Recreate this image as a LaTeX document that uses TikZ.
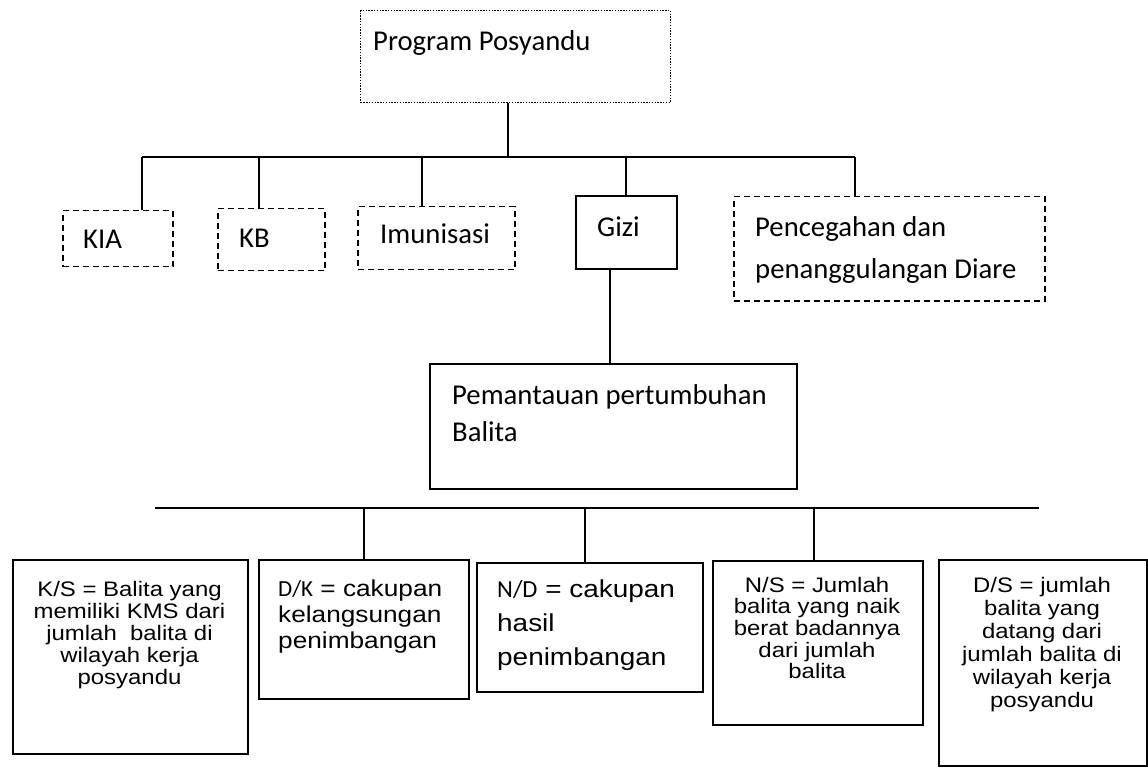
\documentclass[tikz,border=0pt]{standalone}
\usepackage{fontspec}
\setmainfont{Carlito}
\newfontfamily\arialw[FakeStretch=1.14]{Liberation Sans}
\newfontfamily\calfont{Carlito}
\begin{document}
\begin{tikzpicture}[x=1pt,y=-1pt,
  box/.style={draw, line width=1.6pt, rectangle, inner sep=0pt, anchor=north west},
  dashbox/.style={draw, line width=1.5pt, dash pattern=on 6pt off 4pt, rectangle, inner sep=0pt, anchor=north west},
  dotbox/.style={draw, line width=1.3pt, dash pattern=on 1.4pt off 1.4pt, rectangle, inner sep=0pt, anchor=north west},
  conn/.style={line width=1.6pt},
  cal/.style={font=\fontsize{28.7}{37}\selectfont, inner sep=0pt},
  ari/.style={font=\arialw\fontsize{21}{22.5}\selectfont, inner sep=0pt, align=center, anchor=north},
]
\useasboundingbox (0,0) rectangle (1148,767);

% top level
\node[dotbox, minimum width=310pt, minimum height=92pt] (top) at (360,10) {};
\node[cal, anchor=base west] (ttop) at (373,51) {Program Posyandu};

% second level boxes
\node[dashbox, minimum width=110pt, minimum height=56pt] (kia) at (62,210) {};
\node[dashbox, minimum width=107pt, minimum height=62pt] (kb) at (217,208) {};
\node[dashbox, minimum width=157pt, minimum height=63pt] (imu) at (357,206) {};
\node[box, minimum width=101pt, minimum height=73pt] (gizi) at (575,195) {};
\node[dashbox, minimum width=311pt, minimum height=104pt] (diare) at (733,196) {};

\node[cal, anchor=base west] (tkia) at (83,249) {KIA};
\node[cal, anchor=base west] (tkb) at (239,248) {KB};
\node[cal, anchor=base west] (timu) at (380,244) {Imunisasi};
\node[cal, anchor=base west] (tgizi) at (597,237) {Gizi};
\node[cal, anchor=north west, align=left, font=\fontsize{28.7}{42}\selectfont] (tdiare) at (755,211)
  {\rule{0pt}{25pt}Pencegahan dan\\penanggulangan Diare};

% bus 1
\coordinate (busL) at (142,157);
\coordinate (busR) at (855,157);
\coordinate (jTop) at (508,157);
\coordinate (jKB) at (259,157);
\coordinate (jImu) at (422,157);
\coordinate (jGizi) at (626,157);
\draw[conn] (busL) -- (busR);
\draw[conn] (jTop |- top.south) -- (jTop);
\draw[conn] (busL) -- (busL |- kia.north);
\draw[conn] (jKB) -- (jKB |- kb.north);
\draw[conn] (jImu) -- (jImu |- imu.north);
\draw[conn] (jGizi) -- (jGizi |- gizi.north);
\draw[conn] (busR) -- (busR |- diare.north);

% Pemantauan
\node[box, minimum width=367pt, minimum height=125pt] (pem) at (429,363) {};
\node[cal, anchor=north west, align=left] (tpem) at (452,379)
  {\rule{0pt}{25pt}Pemantauan pertumbuhan\\Balita};
\coordinate (jGP) at (610,300);
\draw[conn] (jGP |- gizi.south) -- (jGP |- pem.north);

% bottom boxes
\node[box, minimum width=235pt, minimum height=194pt] (ks) at (12,559) {};
\node[box, minimum width=210pt, minimum height=139pt] (dk) at (258,559) {};
\node[box, minimum width=226pt, minimum height=129pt] (nd) at (476,562) {};
\node[box, minimum width=210pt, minimum height=164pt] (ns) at (712,560) {};
\node[box, minimum width=208pt, minimum height=206pt] (ds) at (938,559) {};

% bus 2
\coordinate (bus2L) at (155,508);
\coordinate (bus2R) at (1039,508);
\coordinate (jDK) at (364,508);
\coordinate (jND) at (585,508);
\coordinate (jNS) at (814,508);
\draw[conn] (bus2L) -- (bus2R);
\draw[conn] (jDK) -- (jDK |- dk.north);
\draw[conn] (jND) -- (jND |- nd.north);
\draw[conn] (jNS) -- (jNS |- ns.north);

% bottom texts
\node[ari, font=\arialw\fontsize{21}{22}\selectfont] (tks) at (129.5,579)
  {\rule{0pt}{17pt}K/S = Balita yang\\memiliki KMS dari\\jumlah\ \ balita di\\wilayah kerja\\posyandu};
\node[ari, anchor=north west, align=left, font=\arialw\fontsize{23}{26}\selectfont] (tdk) at (278,577)
  {\rule{0pt}{19pt}{\calfont D/K} = cakupan\\kelangsungan\\penimbangan};
\node[ari, anchor=north west, align=left, font=\arialw\fontsize{24.5}{34}\selectfont] (tnd) at (497,577)
  {\rule{0pt}{20pt}{\calfont N/D} = cakupan\\hasil\\penimbangan};
\node[ari, font=\arialw\fontsize{21}{21.6}\selectfont] (tns) at (817,575)
  {\rule{0pt}{17pt}N/S = Jumlah\\balita yang naik\\berat badannya\\dari jumlah\\balita};
\node[ari, font=\arialw\fontsize{21}{23}\selectfont] (tds) at (1042,575)
  {\rule{0pt}{17pt}D/S = jumlah\\balita yang\\datang dari\\jumlah balita di\\wilayah kerja\\posyandu};
\end{tikzpicture}
\end{document}
